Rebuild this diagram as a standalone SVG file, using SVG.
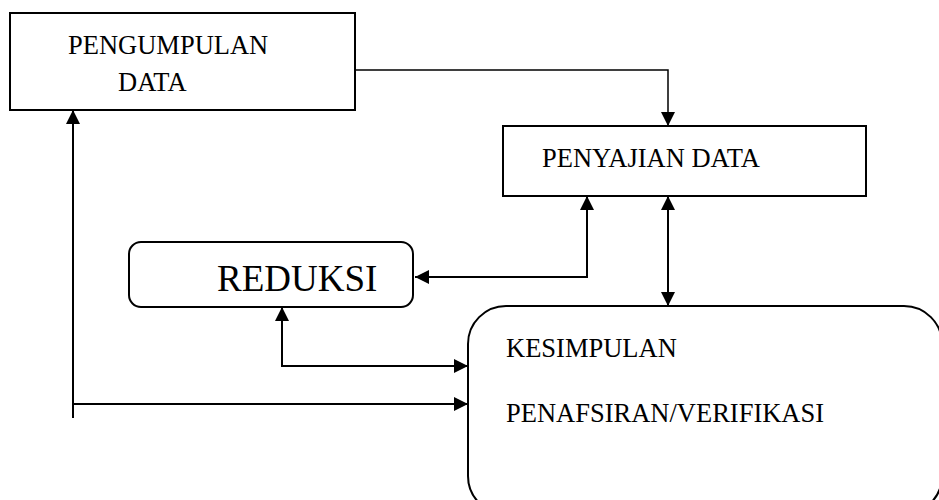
<svg xmlns="http://www.w3.org/2000/svg" width="939" height="500" viewBox="0 0 939 500">
<style>
.box{fill:#fff;stroke:#000;stroke-width:2}
.t{font-family:"Liberation Serif","Times New Roman",serif;font-size:26.5px;fill:#000}
.c{fill:none;stroke:#000;stroke-width:2}
</style>
<defs>
<marker id="ah" viewBox="0 0 14 14" refX="14" refY="7" markerWidth="14" markerHeight="14" markerUnits="userSpaceOnUse" orient="auto-start-reverse">
<path d="M0,0 L14,7 L0,14 Z" fill="#000"/>
</marker>
</defs>
<rect width="939" height="500" fill="#fff"/>
<g id="pengumpulan">
<rect class="box" x="10" y="13" width="345" height="97"/>
<text class="t" x="68" y="54">PENGUMPULAN</text>
<text class="t" x="118" y="91">DATA</text>
</g>
<g id="penyajian">
<rect class="box" x="503" y="126" width="363" height="70"/>
<text class="t" x="542" y="167">PENYAJIAN DATA</text>
</g>
<g id="reduksi">
<rect class="box" x="129" y="242" width="284" height="65" rx="12"/>
<text class="t" x="217" y="291" style="font-size:37px">REDUKSI</text>
</g>
<g id="kesimpulan">
<rect class="box" x="468" y="306" width="474" height="208" rx="38"/>
<text class="t" x="506" y="357">KESIMPULAN</text>
<text class="t" x="506" y="422">PENAFSIRAN/VERIFIKASI</text>
</g>
<g id="connectors">
<path class="c" d="M355,70 H668 V126" marker-end="url(#ah)" style="stroke-width:1.5"/>
<path class="c" d="M587,196 V277 H415" marker-start="url(#ah)" marker-end="url(#ah)"/>
<path class="c" d="M668,196 V306" marker-start="url(#ah)" marker-end="url(#ah)"/>
<path class="c" d="M282,307 V366 H468" marker-start="url(#ah)" marker-end="url(#ah)"/>
<path class="c" d="M73,418 V110" marker-end="url(#ah)"/>
<path class="c" d="M73,404 H468" marker-end="url(#ah)"/>
</g>
</svg>
